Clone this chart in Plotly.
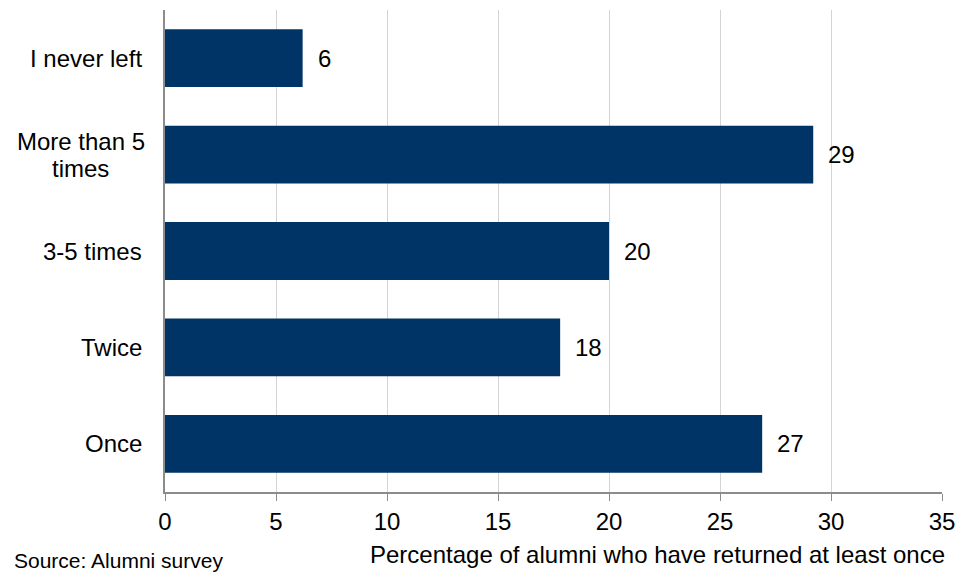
import plotly.graph_objects as go

# Survey responses, listed top to bottom as they appear on the chart
categories = ["I never left", "More than 5\ntimes", "3-5 times", "Twice", "Once"]
percentages = [6.2, 29.2, 20.0, 17.8, 26.9]

x_ticks = [0, 5, 10, 15, 20, 25, 30, 35]
x_title = "Percentage of alumni who have returned at least once"
source_note = "Source: Alumni survey"

FONT = "Liberation Sans, Arial, Helvetica, sans-serif"
FS = 24
LABEL_GAP = 21        # px between category labels and the y axis
WRAP_BLOCK_W = 127    # px width of a wrapped category label block
LINE_GAP = 27         # px between lines of a wrapped category label
BAR_COLOR = "#003366"
AXIS_GRAY = "#8c8c8c"
GRID_GRAY = "#d4d4d4"

W, H = 966, 572
margin = dict(l=164.5, r=23.5, t=10, b=80)
plot_w = W - margin["l"] - margin["r"]
plot_h = H - margin["t"] - margin["b"]

fig = go.Figure()
fig.add_trace(go.Bar(
    x=percentages,
    y=list(range(len(categories))),
    orientation="h",
    marker=dict(color=BAR_COLOR, line=dict(width=0)),
    hoverinfo="skip",
))

annotations = []
# value labels just past the end of each bar
for i, v in enumerate(percentages):
    annotations.append(dict(
        x=v, y=i, xref="x", yref="y", text=f"{v:.0f}",
        showarrow=False, xanchor="left", yanchor="middle", xshift=13,
        font=dict(family=FONT, size=FS, color="black"),
    ))
# category labels; wrapped labels are centred line by line on a common midpoint
for i, c in enumerate(categories):
    lines = c.split("\n")
    if len(lines) == 1:
        annotations.append(dict(
            x=0, y=i, xref="paper", yref="y", text=c,
            showarrow=False, xanchor="right", yanchor="middle",
            xshift=-LABEL_GAP, font=dict(family=FONT, size=FS, color="black"),
        ))
        continue
    for k, line in enumerate(lines):
        off = (k - (len(lines) - 1) / 2) * LINE_GAP
        annotations.append(dict(
            x=0, y=i, xref="paper", yref="y", text=line,
            showarrow=False, xanchor="center", yanchor="middle",
            xshift=-LABEL_GAP - WRAP_BLOCK_W / 2, yshift=-off,
            font=dict(family=FONT, size=FS, color="black"),
        ))
# axis title, right-aligned at the end of the axis
annotations.append(dict(
    x=1, y=-margin["b"] / plot_h, xref="paper", yref="paper", text=x_title,
    showarrow=False, xanchor="right", yanchor="bottom", xshift=5, yshift=2,
    font=dict(family=FONT, size=FS, color="black"),
))
# source note in the bottom-left corner
annotations.append(dict(
    x=-(margin["l"] - 11) / plot_w, y=-margin["b"] / plot_h,
    xref="paper", yref="paper", text=source_note,
    showarrow=False, xanchor="left", yanchor="bottom", yshift=-2,
    font=dict(family=FONT, size=21, color="black"),
))

fig.update_layout(
    width=W, height=H, margin=margin,
    paper_bgcolor="white", plot_bgcolor="white",
    bargap=0.4, showlegend=False,
    font=dict(family=FONT, size=FS, color="black"),
    annotations=annotations,
    xaxis=dict(
        range=[0, 35], tickvals=x_ticks, ticktext=[str(t) for t in x_ticks],
        ticks="outside", ticklen=7, tickcolor=AXIS_GRAY, tickwidth=1,
        showline=True, linecolor=AXIS_GRAY, linewidth=1.5,
        showgrid=True, gridcolor=GRID_GRAY, gridwidth=1, zeroline=False,
        tickfont=dict(family=FONT, size=FS, color="black"),
        fixedrange=True,
    ),
    yaxis=dict(
        range=[len(categories) - 0.5, -0.5], showticklabels=False, ticks="",
        showline=True, linecolor=AXIS_GRAY, linewidth=1.5,
        showgrid=False, zeroline=False, fixedrange=True,
    ),
)

fig.write_html("out.html", config={"displayModeBar": False})
